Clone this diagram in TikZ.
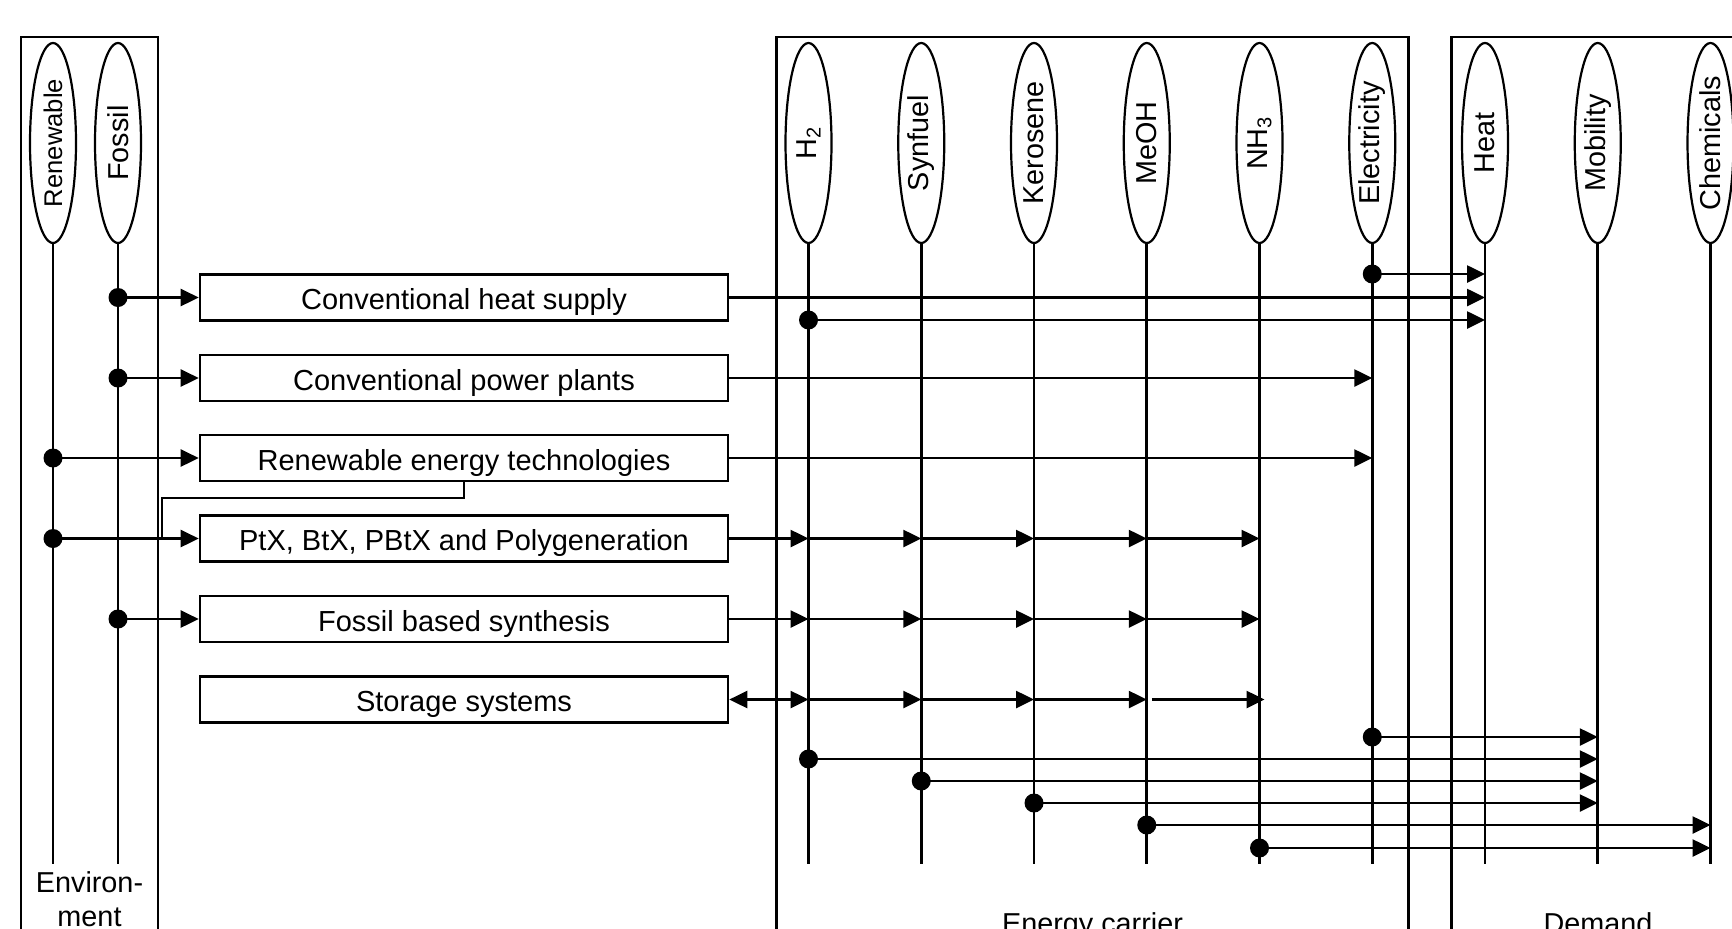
\documentclass[tikz,border=0pt]{standalone}
\usepackage{fontspec}
\usepackage{graphicx}
\setmainfont{Liberation Sans}
\usetikzlibrary{shapes.geometric,arrows.meta,calc}
\begin{document}
\begin{tikzpicture}[x=0.5pt,y=-0.5pt,line width=1.3pt,
  lbl/.style={font=\fontsize{14.4pt}{17pt}\selectfont},
  carrier/.style={ellipse,draw,line width=1.1pt,minimum width=23pt,minimum height=100pt,inner sep=0pt,font=\fontsize{14.4pt}{17pt}\selectfont},
  proc/.style={draw,rectangle,minimum width=264pt,minimum height=23pt,inner sep=0pt,text height=12.3pt,text depth=0pt,font=\fontsize{14.5pt}{17pt}\selectfont},
  arr/.style={-{Triangle[length=9pt,width=8.5pt]}},
  darr/.style={{Triangle[length=9pt,width=8.5pt]}-{Triangle[length=9pt,width=8.5pt]}},
  dotf/.style={fill=black}
]
\useasboundingbox (0,0) rectangle (1732,928);
\clip (0,0) rectangle (1732,928);

% group frames
\draw (21,37) rectangle (158,960);
\draw (776.5,37) rectangle (1408.5,960);
\draw (1451.5,37) rectangle (1745,960);

% carrier ellipses
\node[carrier,font=\fontsize{12.8pt}{15pt}\selectfont] (ren) at (53,143) {\rotatebox{90}{Renewable}};
\node[carrier] (fos) at (118,143) {\rotatebox{90}{Fossil}};
\node[carrier] (h2) at (808.5,143) {\rotatebox{90}{H\textsubscript{2}}};
\node[carrier] (syn) at (921.25,143) {\rotatebox{90}{Synfuel}};
\node[carrier] (ker) at (1034,143) {\rotatebox{90}{Kerosene}};
\node[carrier] (meoh) at (1146.75,143) {\rotatebox{90}{MeOH}};
\node[carrier] (nh3) at (1259.5,143) {\rotatebox{90}{NH\textsubscript{3}}};
\node[carrier] (elec) at (1372.25,143) {\rotatebox{90}{Electricity}};
\node[carrier] (heat) at (1485,143) {\rotatebox{90}{Heat}};
\node[carrier] (mob) at (1597.75,143) {\rotatebox{90}{Mobility}};
\node[carrier] (chem) at (1710.5,143) {\rotatebox{90}{Chemicals}};

% vertical lines
\coordinate (bot) at (0,864);
\foreach \c in {ren,fos,h2,syn,ker,meoh,nh3,elec,heat,mob,chem}
  \draw (\c.south) -- (\c |- bot);

% process boxes
\node[proc] (hs) at (464,297.5) {Conventional heat supply};
\node[proc] (cpp) at (464,378) {Conventional power plants};
\node[proc] (ret) at (464,458) {Renewable energy technologies};
\node[proc] (ptx) at (464,538.5) {PtX, BtX, PBtX and Polygeneration};
\node[proc] (fbs) at (464,619) {Fossil based synthesis};
\node[proc] (sto) at (464,699.5) {Storage systems};

% group labels
\node[lbl,anchor=base] (envA) at (89.5,892) {Environ-};
\node[lbl,anchor=base] (envB) at (89.5,926) {ment};
\node[lbl,anchor=base] (ecl) at (1092.5,933) {Energy carrier};
\node[lbl,anchor=base] (dml) at (1598,933) {Demand};

% inputs from environment
\draw[arr] (fos |- hs.west) -- (hs.west);
\draw[arr] (fos |- cpp.west) -- (cpp.west);
\draw[arr] (ren |- ret.west) -- (ret.west);
\draw[arr] (ren |- ptx.west) -- (ptx.west);
\draw[arr] (fos |- fbs.west) -- (fbs.west);
\coordinate (kink) at (162,498);
\draw (ret.south) |- (kink) -- (kink |- ptx.west);

% heat row
\coordinate (ya) at (0,274);
\coordinate (yb) at (0,320);
\draw[arr] (hs.east) -- (hs.east -| heat);
\draw[arr] (elec |- ya) -- (heat |- ya);
\draw[arr] (h2 |- yb) -- (heat |- yb);

% electricity rows
\draw[arr] (cpp.east) -- (cpp.east -| elec);
\draw[arr] (ret.east) -- (ret.east -| elec);

% synthesis rows
\draw[arr] (ptx.east) -- (ptx.east -| h2);
\draw[arr] (fbs.east) -- (fbs.east -| h2);
\foreach \a/\b in {h2/syn,syn/ker,ker/meoh,meoh/nh3}{
  \draw[arr] (\a |- ptx.east) -- (\b |- ptx.east);
  \draw[arr] (\a |- fbs.east) -- (\b |- fbs.east);
}
% storage row
\draw[darr] (sto.east) -- (sto.east -| h2);
\foreach \a/\b in {h2/syn,syn/ker,ker/meoh}
  \draw[arr] (\a |- sto.east) -- (\b |- sto.east);
\draw[arr] ($(meoh |- sto.east)+(5,0)$) -- ($(nh3 |- sto.east)+(5,0)$);

% to demand
\coordinate (y1) at (0,737);
\coordinate (y2) at (0,759);
\coordinate (y3) at (0,781);
\coordinate (y4) at (0,803);
\coordinate (y5) at (0,825);
\coordinate (y6) at (0,848);
\draw[arr] (elec |- y1) -- (mob |- y1);
\draw[arr] (h2 |- y2) -- (mob |- y2);
\draw[arr] (syn |- y3) -- (mob |- y3);
\draw[arr] (ker |- y4) -- (mob |- y4);
\draw[arr] (meoh |- y5) -- (chem |- y5);
\draw[arr] (nh3 |- y6) -- (chem |- y6);

% dots
\foreach \p in {fos |- hs.west, fos |- cpp.west, ren |- ret.west, ren |- ptx.west, fos |- fbs.west,
  elec |- ya, h2 |- yb, elec |- y1, h2 |- y2, syn |- y3, ker |- y4, meoh |- y5, nh3 |- y6}
  \fill[dotf] (\p) circle[radius=4.75pt];
\end{tikzpicture}
\end{document}
